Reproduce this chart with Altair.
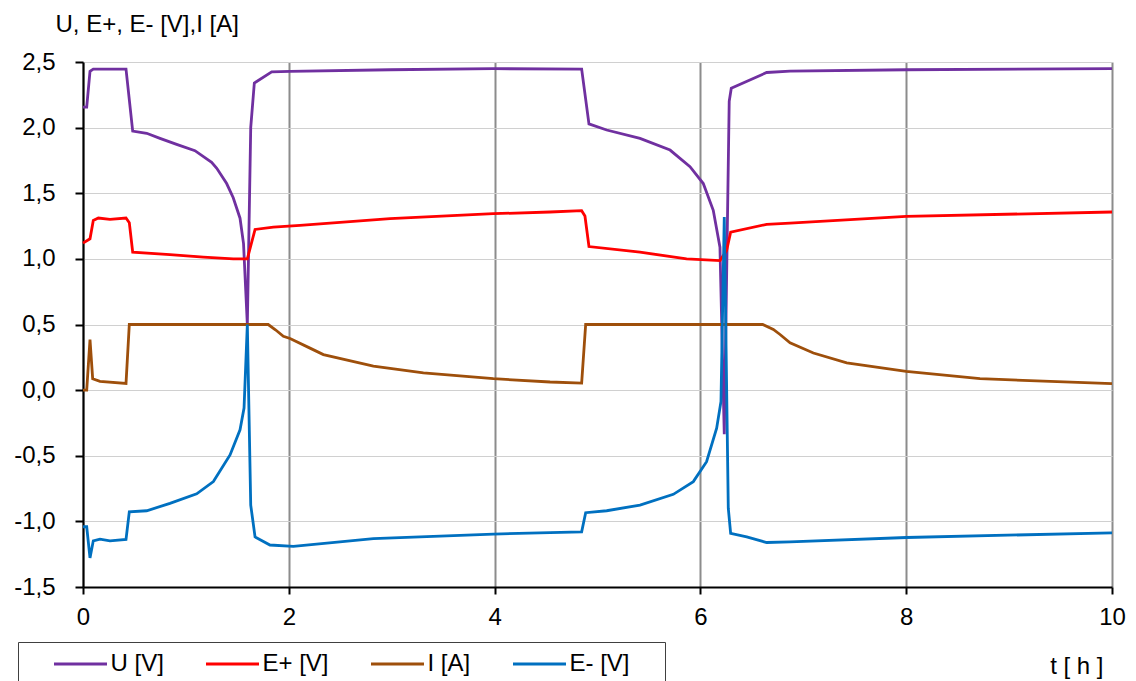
import altair as alt
import pandas as pd

# ---- data ----
series_names = ["U [V]", "E+ [V]", "I [A]", "E- [V]"]
series_colors = ["#7030A0", "#FF0000", "#9E4F0B", "#0070C0"]

t_U = [0.0, 0.036, 0.068, 0.1, 0.418, 0.483, 0.619, 0.748, 0.91, 1.088, 1.25, 1.30,
       1.396, 1.46, 1.526, 1.56, 1.597, 1.63, 1.665, 1.834, 2.012, 2.984, 3.988, 4.846,
       4.917, 5.089, 5.413, 5.705, 5.899, 6.028, 6.125, 6.19, 6.232, 6.28, 6.30, 6.644,
       6.871, 8.0, 10.0]
U = [2.156, 2.156, 2.429, 2.446, 2.446, 1.974, 1.957, 1.918, 1.872, 1.824, 1.735, 1.69,
     1.574, 1.466, 1.31, 1.117, 0.5, 2.0, 2.34, 2.425, 2.429, 2.441, 2.449, 2.446,
     2.028, 1.982, 1.918, 1.829, 1.702, 1.574, 1.37, 1.089, -0.336, 2.2, 2.30, 2.42,
     2.43, 2.441, 2.449]

t_Ep = [0.0, 0.068, 0.1, 0.149, 0.262, 0.418, 0.45, 0.483, 0.845, 1.17, 1.461, 1.597,
        1.672, 1.85, 2.109, 2.984, 3.988, 4.539, 4.846, 4.878, 4.917, 5.413, 5.866, 6.19,
        6.255, 6.294, 6.644, 6.871, 8.0, 10.0]
Ep = [1.12, 1.153, 1.293, 1.311, 1.301, 1.311, 1.276, 1.051, 1.033, 1.013, 1.0, 1.0,
      1.224, 1.242, 1.255, 1.306, 1.344, 1.357, 1.367, 1.327, 1.094, 1.051, 1.0, 0.987,
      1.064, 1.204, 1.263, 1.273, 1.324, 1.357]

t_I = [0.0, 0.036, 0.068, 0.094, 0.165, 0.418, 0.45, 1.80, 1.87, 1.947, 2.012, 2.206,
       2.336, 2.822, 3.308, 3.988, 4.539, 4.846, 4.885, 6.605, 6.709, 6.774, 6.871, 7.098,
       7.422, 8.0, 8.717, 10.0]
I = [0.0, 0.0, 0.385, 0.087, 0.067, 0.051, 0.5, 0.5, 0.46, 0.41, 0.393, 0.32,
     0.271, 0.182, 0.131, 0.087, 0.062, 0.054, 0.5, 0.5, 0.462, 0.424, 0.36, 0.283,
     0.207, 0.143, 0.087, 0.049]

t_Em = [0.0, 0.036, 0.068, 0.1, 0.165, 0.262, 0.418, 0.45, 0.619, 0.845, 1.105, 1.267,
        1.429, 1.526, 1.565, 1.597, 1.63, 1.672, 1.817, 2.044, 2.822, 3.988, 4.539, 4.846,
        4.885, 5.089, 5.413, 5.737, 5.931, 6.06, 6.158, 6.2, 6.232, 6.271, 6.294, 6.45,
        6.644, 6.871, 8.004, 10.0]
Em = [-1.041, -1.041, -1.278, -1.148, -1.136, -1.148, -1.138, -0.927, -0.919, -0.863,
      -0.79, -0.697, -0.494, -0.302, -0.137, 0.5, -0.876, -1.118, -1.18, -1.19, -1.131,
      -1.097, -1.085, -1.08, -0.934, -0.919, -0.876, -0.794, -0.697, -0.545, -0.29,
      -0.086, 1.319, -0.9, -1.092, -1.118, -1.161, -1.156, -1.123, -1.087]

x_ticks = [0, 2, 4, 6, 8, 10]
y_ticks = [-1.5, -1.0, -0.5, 0.0, 0.5, 1.0, 1.5, 2.0, 2.5]

frames = []
for name, ts, vs in zip(series_names, [t_U, t_Ep, t_I, t_Em], [U, Ep, I, Em]):
    frames.append(pd.DataFrame({"t": ts, "v": vs, "series": name}))
df = pd.concat(frames, ignore_index=True)

FONT = "Liberation Sans"
FS = 24

x_enc = alt.X(
    "t:Q",
    scale=alt.Scale(domain=[0, 10], nice=False, zero=False),
    axis=alt.Axis(
        values=x_ticks, format="d", labelFlush=False,
        labelFont=FONT, labelFontSize=FS, labelColor="#000000", labelPadding=11,
        domainColor="#000000", domainWidth=2,
        tickColor="#000000", tickWidth=2, tickSize=7,
        grid=True, gridColor="#8c8c8c", gridWidth=2,
        title="t [ h ]", titleFont=FONT, titleFontSize=FS, titleFontWeight="normal",
        titleColor="#000000", titleAlign="right", titleBaseline="alphabetic",
        titleX=1020, titleY=86,
    ),
)

y_label_expr = "(datum.value < 0 ? '-' : '') + replace(format(abs(datum.value), '.1f'), '.', ',')"

y_enc = alt.Y(
    "v:Q",
    scale=alt.Scale(domain=[-1.5, 2.5], nice=False, zero=False),
    axis=alt.Axis(
        values=y_ticks, labelExpr=y_label_expr,
        labelFont=FONT, labelFontSize=FS, labelColor="#000000", labelPadding=20,
        domainColor="#000000", domainWidth=2,
        tickColor="#000000", tickWidth=2, tickSize=8,
        grid=True, gridColor="#d0d0d0", gridWidth=1,
        title="U, E+, E- [V],I [A]", titleFont=FONT, titleFontSize=FS,
        titleFontWeight="normal", titleColor="#000000",
        titleAngle=0, titleAlign="left", titleBaseline="alphabetic",
        titleX=-28, titleY=-31,
    ),
)

# legend: symbols pushed right with symbolOffset; blank title on the right widens the frame
legend = alt.Legend(
    orient="none", legendX=-65, legendY=580, direction="horizontal",
    title="\u00a0", titleOrient="right", titleFontSize=12, titlePadding=25,
    symbolType="stroke", symbolSize=2809, symbolStrokeWidth=3, symbolOffset=24.5,
    clipHeight=24,
    labelFont=FONT, labelFontSize=FS, labelColor="#000000", labelOffset=2,
    columnPadding=16, padding=10,
    strokeColor="#404040", fillColor="#ffffff",
)

color_enc = alt.Color(
    "series:N",
    scale=alt.Scale(domain=series_names, range=series_colors),
    legend=legend,
)

layers = []
for name in series_names:
    layers.append(
        alt.Chart(df)
        .transform_filter(alt.datum.series == name)
        .mark_line(strokeWidth=2.8, interpolate="linear")
        .encode(x=x_enc, y=y_enc, color=color_enc)
    )

chart = (
    alt.layer(*layers)
    .properties(
        width=1029, height=525,
        padding={"left": 75, "top": 54, "right": 16, "bottom": 101},
        autosize=alt.AutoSizeParams(type="none"),
        background="#ffffff",
    )
    .configure_view(stroke=None)
)

chart.save("out.html", embed_options={"renderer": "svg", "actions": False})
